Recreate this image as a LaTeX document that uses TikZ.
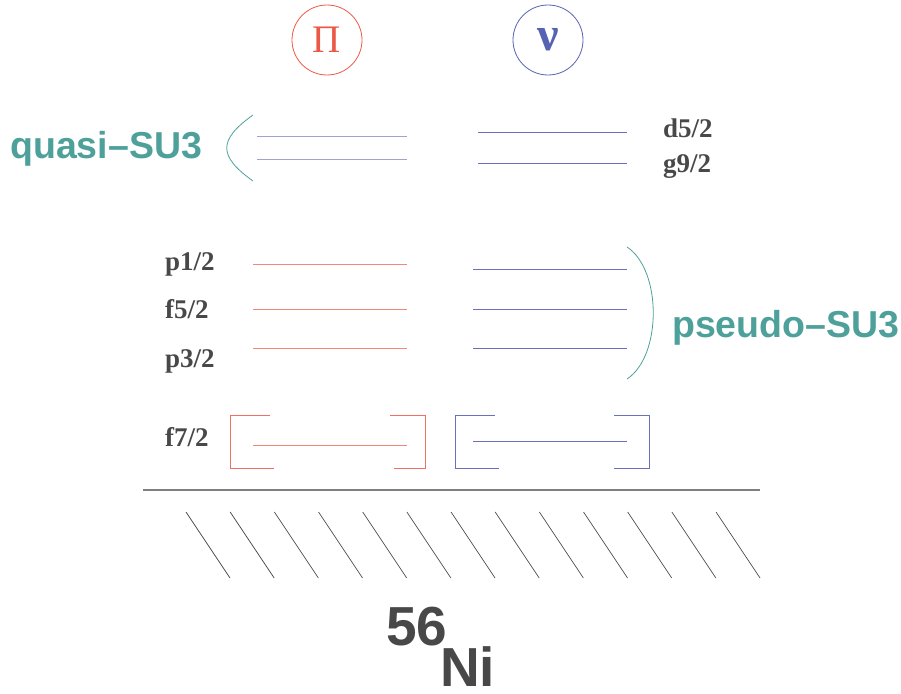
\documentclass[tikz,border=0pt]{standalone}
\usepackage{fontspec}
\setmainfont{Liberation Serif}
\setsansfont{Liberation Sans}
\usetikzlibrary{positioning, calc}

\definecolor{protred}{RGB}{236,88,72}
\definecolor{protlev}{RGB}{244,135,122}
\definecolor{neutblue}{RGB}{88,98,178}
\definecolor{neutlev}{RGB}{105,112,190}
\definecolor{quasilev}{RGB}{160,162,210}
\definecolor{sutteal}{RGB}{78,160,155}
\definecolor{labgrey}{RGB}{72,72,72}

\tikzset{
    particle/.style={circle, draw, line width=0.8pt, minimum size=70pt, inner sep=0pt},
    orbit/.style={anchor=base west, inner sep=0pt, text=labgrey, font=\fontsize{27}{27}\selectfont\bfseries},
    sulabel/.style={anchor=base west, inner sep=0pt, text=sutteal, font=\fontsize{37.5}{37.5}\selectfont\sffamily\bfseries},
    nucleus/.style={anchor=base west, inner sep=0pt, text=labgrey, font=\fontsize{55}{55}\selectfont\sffamily\bfseries},
    level/.style={line width=0.9pt},
    bracket/.style={line width=1pt},
}

\begin{document}
\begin{tikzpicture}[x=1pt, y=-1pt]
    \useasboundingbox (0,0) rectangle (901,693);

    \node[particle, draw=protred, text=protred, font=\fontsize{39}{39}\selectfont] (pi) at (327,40) {Π};
    \node[particle, draw=neutblue, text=neutblue, font=\fontsize{48}{48}\selectfont\bfseries] (nu) at (548,40) {ν};

    % orbit labels
    \node[orbit] (d52) at (663,137) {d5/2};
    \node[orbit] (g92) at (663,172) {g9/2};
    \node[orbit] (p12) at (165,270) {p1/2};
    \node[orbit] (f52) at (165,318) {f5/2};
    \node[orbit] (p32) at (165,367) {p3/2};
    \node[orbit] (f72) at (165,446) {f7/2};

    \node[sulabel] (quasi) at (10,158) {quasi–SU3};
    \node[sulabel] (pseudo) at (672,337) {pseudo–SU3};

    % quasi-SU3 shell
    \draw[level, quasilev] (257,136) -- (407,136);
    \draw[level, quasilev] (257,159) -- (407,159);
    \draw[level, neutlev] (478,132) -- (627,132);
    \draw[level, neutlev] (478,163) -- (627,163);
    \draw[sutteal, line width=0.8pt] (253,115) .. controls (218,140) and (218,156) .. (253,181);

    % pseudo-SU3 shell
    \foreach \y in {264,309,348}
        \draw[level, protlev] (253,\y) -- (407,\y);
    \foreach \y in {269,309,348}
        \draw[level, neutlev] (473,\y) -- (627,\y);
    \draw[sutteal, line width=0.8pt] (627,247) .. controls (662,270) and (662,356) .. (627,379);

    % f7/2 closed shell
    \draw[level, protlev] (253,445) -- (407,445);
    \draw[level, neutlev] (473,441) -- (627,441);
    \draw[bracket, protred!85] (270,415) -| (230,468) -- (274,468);
    \draw[bracket, protred!85] (390,415) -| (425,468) -- (394,468);
    \draw[bracket, neutlev] (495,415) -| (455,468) -- (499,468);
    \draw[bracket, neutlev] (614,415) -| (649,468) -- (614,468);

    % core
    \draw[line width=1.2pt, black!50] (143,490) -- (760,490);
    \foreach \i in {0,...,12}
        \draw[line width=0.7pt, black!70] ({186+44.17*\i},512) -- ++(44,66);

    \node[nucleus] (mass) at (386,645) {56};
    \node[nucleus] (ni) at (440,686) {Ni};
\end{tikzpicture}
\end{document}
